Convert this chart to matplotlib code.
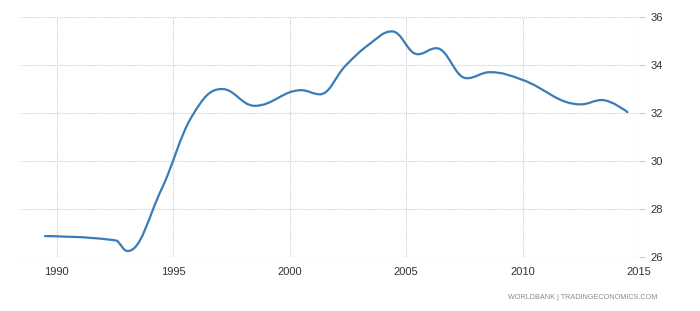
import matplotlib
matplotlib.use("Agg")
import matplotlib.pyplot as plt
from matplotlib.path import Path
from matplotlib.patches import PathPatch

# knots (fractional years, values)
years = [1989.5, 1992.6, 1993.05, 1994.5, 1995.8, 1997.1, 1998.5, 2000.5,
         2001.3, 2002.4, 2003.4, 2004.4, 2005.5, 2006.3, 2007.6, 2008.6,
         2010.0, 2012.5, 2013.4, 2014.5]
values = [26.87, 26.68, 26.25, 28.82, 31.85, 33.0, 32.3, 32.95,
          32.78, 33.97, 34.85, 35.4, 34.45, 34.7, 33.45, 33.7,
          33.38, 32.36, 32.54, 32.04]
x_ticks = [1990, 1995, 2000, 2005, 2010, 2015]
y_ticks = [26, 28, 30, 32, 34, 36]
source = "WORLDBANK | TRADINGECONOMICS.COM"


def spline_path(xs, ys, smoothing=1.5):
    # highcharts-like spline: bezier control points per knot
    n = len(xs)
    left = [None] * n
    right = [None] * n
    for i in range(n):
        x, y = xs[i], ys[i]
        if i == 0 or i == n - 1:
            left[i] = right[i] = (x, y)
            continue
        d = smoothing + 1
        px, py = xs[i - 1], ys[i - 1]
        nx, ny = xs[i + 1], ys[i + 1]
        lx, ly = (smoothing * x + px) / d, (smoothing * y + py) / d
        rx, ry = (smoothing * x + nx) / d, (smoothing * y + ny) / d
        if rx != lx:
            corr = (ry - ly) * (rx - x) / (rx - lx) + y - ry
            ly += corr
            ry += corr
        if ly > max(py, y):
            ly = max(py, y)
            ry = 2 * y - ly
        elif ly < min(py, y):
            ly = min(py, y)
            ry = 2 * y - ly
        if ry > max(y, ny):
            ry = max(y, ny)
            ly = 2 * y - ry
        elif ry < min(y, ny):
            ry = min(y, ny)
            ly = 2 * y - ry
        left[i] = (lx, ly)
        right[i] = (rx, ry)
    verts = [(xs[0], ys[0])]
    codes = [Path.MOVETO]
    for i in range(1, n):
        verts += [right[i - 1], left[i], (xs[i], ys[i])]
        codes += [Path.CURVE4] * 3
    return Path(verts, codes)


fig = plt.figure(figsize=(7, 3.11), dpi=100)
ax = fig.add_axes([0.03, 0.1736, 0.8829, 0.7717])

ax.add_patch(PathPatch(spline_path(years, values), facecolor="none",
                       edgecolor="#3b7cb5", linewidth=1.6,
                       capstyle="round", joinstyle="round", zorder=3))

ax.set_xlim(1988.47, 2015)
ax.set_ylim(26, 36)
ax.set_xticks(x_ticks)
ax.set_yticks(y_ticks)

ax.grid(True, color="#cccccc", linestyle=(0, (1, 1)), linewidth=0.8)
for s in ax.spines.values():
    s.set_visible(False)

ax.yaxis.tick_right()
ax.tick_params(axis="y", length=4, color="#cccccc", pad=4,
               labelsize=8, labelcolor="#333333")
ax.tick_params(axis="x", length=0, pad=7, labelsize=8, labelcolor="#333333")
for lab in ax.get_xticklabels() + ax.get_yticklabels():
    lab.set_fontfamily("Liberation Sans")

fig.text(0.939, 0.045, source, ha="right", va="center", fontsize=5.2,
         color="#8a8a8a", family="Liberation Sans")

fig.savefig("out.png", dpi=100)
